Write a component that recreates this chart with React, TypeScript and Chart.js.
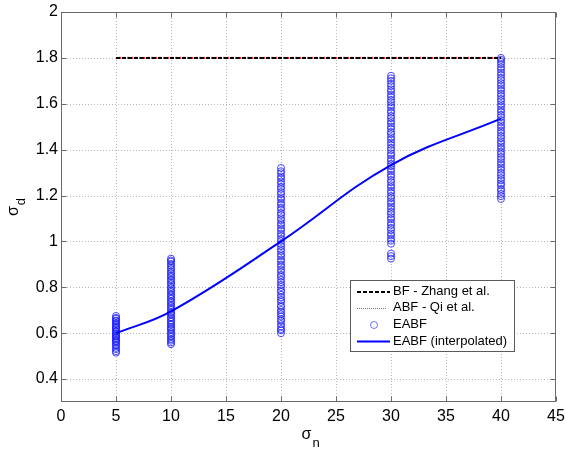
import React, { useEffect, useRef } from "react";
import { Chart, registerables } from "chart.js";

Chart.register(...registerables);

// ---- tick labels ----
const xTickValues = [0, 5, 10, 15, 20, 25, 30, 35, 40, 45];
const yTickValues = [0.4, 0.6, 0.8, 1.0, 1.2, 1.4, 1.6, 1.8, 2.0];

// ---- BF (Zhang et al.) and ABF (Qi et al.) ----
const bfX = [5, 40];
const bfY = [1.8, 1.8];
const abfX = [5, 40];
const abfY = [1.8, 1.8];

// ---- EABF samples (sigma_n levels and sigma_d estimates) ----
const eabfLevels = [5, 10, 20, 30, 40];
const eabfAt5 = [0.515, 0.521, 0.53, 0.536, 0.546, 0.55, 0.559, 0.564, 0.568, 0.575, 0.58, 0.586, 0.589, 0.595, 0.6, 0.607, 0.61, 0.618, 0.623, 0.627, 0.634, 0.64, 0.644, 0.652, 0.655, 0.663, 0.667, 0.675];
const eabfAt10 = [0.552, 0.559, 0.567, 0.573, 0.583, 0.589, 0.598, 0.604, 0.614, 0.62, 0.627, 0.636, 0.641, 0.65, 0.655, 0.665, 0.67, 0.68, 0.686, 0.692, 0.702, 0.708, 0.717, 0.723, 0.733, 0.739, 0.749, 0.754, 0.764, 0.77, 0.78, 0.786, 0.796, 0.802, 0.813, 0.819, 0.829, 0.835, 0.846, 0.852, 0.862, 0.868, 0.879, 0.885, 0.895, 0.902, 0.912, 0.917, 0.925];
const eabfAt20 = [0.6, 0.612, 0.618, 0.629, 0.64, 0.653, 0.66, 0.673, 0.682, 0.691, 0.701, 0.715, 0.721, 0.736, 0.745, 0.756, 0.767, 0.78, 0.787, 0.801, 0.811, 0.822, 0.833, 0.846, 0.854, 0.867, 0.877, 0.89, 0.899, 0.912, 0.921, 0.935, 0.944, 0.957, 0.966, 0.979, 0.989, 1.002, 1.011, 1.024, 1.034, 1.047, 1.057, 1.07, 1.079, 1.092, 1.101, 1.115, 1.124, 1.138, 1.147, 1.16, 1.169, 1.183, 1.192, 1.206, 1.215, 1.229, 1.238, 1.251, 1.261, 1.274, 1.283, 1.297, 1.306, 1.32];
const eabfAt30 = [0.925, 0.936, 0.947, 0.99, 1.003, 1.012, 1.026, 1.035, 1.049, 1.059, 1.072, 1.082, 1.096, 1.105, 1.119, 1.129, 1.142, 1.152, 1.165, 1.175, 1.189, 1.198, 1.212, 1.221, 1.235, 1.245, 1.258, 1.268, 1.282, 1.291, 1.305, 1.315, 1.328, 1.338, 1.351, 1.361, 1.375, 1.384, 1.398, 1.408, 1.421, 1.431, 1.444, 1.454, 1.468, 1.477, 1.491, 1.501, 1.514, 1.524, 1.537, 1.547, 1.561, 1.57, 1.584, 1.594, 1.607, 1.617, 1.63, 1.64, 1.654, 1.663, 1.677, 1.687, 1.7, 1.711, 1.722];
const eabfAt40 = [1.185, 1.197, 1.207, 1.22, 1.229, 1.244, 1.253, 1.266, 1.276, 1.289, 1.299, 1.312, 1.322, 1.335, 1.345, 1.358, 1.368, 1.381, 1.391, 1.404, 1.414, 1.427, 1.437, 1.45, 1.46, 1.473, 1.483, 1.496, 1.506, 1.519, 1.529, 1.542, 1.552, 1.565, 1.575, 1.588, 1.598, 1.611, 1.621, 1.634, 1.644, 1.657, 1.667, 1.68, 1.69, 1.703, 1.713, 1.726, 1.736, 1.749, 1.759, 1.772, 1.782, 1.792, 1.8];
const eabfColumns = [eabfAt5, eabfAt10, eabfAt20, eabfAt30, eabfAt40];

// ---- EABF interpolated curve ----
const interpX = [5, 10, 20, 30, 40];
const interpY = [0.6, 0.695, 1.0, 1.333, 1.535];

const FONT = "'Liberation Sans', Arial, Helvetica, sans-serif";
const AXIS_COLOR = "#6a6a6a";

const framePlugin = {
  id: "matlabFrame",
  beforeDatasetsDraw(chart: any) {
    const { ctx, chartArea: a, scales } = chart;
    const x = scales.x, y = scales.y;
    ctx.save();
    ctx.strokeStyle = "#b8b8b8";
    ctx.lineWidth = 1;
    ctx.setLineDash([1, 2]);
    xTickValues.forEach((v) => {
      if (v <= x.min || v >= x.max) return;
      const px = Math.round(x.getPixelForValue(v)) + 0.5;
      ctx.beginPath();
      ctx.moveTo(px, a.top);
      ctx.lineTo(px, a.bottom);
      ctx.stroke();
    });
    yTickValues.forEach((v) => {
      if (v <= y.min || v >= y.max) return;
      const py = Math.round(y.getPixelForValue(v)) + 0.5;
      ctx.beginPath();
      ctx.moveTo(a.left, py);
      ctx.lineTo(a.right, py);
      ctx.stroke();
    });
    ctx.restore();
  },
  afterDatasetsDraw(chart: any) {
    const { ctx, chartArea: a, scales } = chart;
    const x = scales.x, y = scales.y;
    const L = Math.round(a.left) + 0.5, R = Math.round(a.right) - 0.5;
    const T = Math.round(a.top) + 0.5, B = Math.round(a.bottom) - 0.5;
    ctx.save();
    ctx.strokeStyle = AXIS_COLOR;
    ctx.lineWidth = 1;
    ctx.setLineDash([]);
    ctx.strokeRect(L, T, R - L, B - T);
    const tl = 5;
    ctx.beginPath();
    xTickValues.forEach((v) => {
      const px = Math.round(x.getPixelForValue(v)) + 0.5;
      ctx.moveTo(px, B);
      ctx.lineTo(px, B - tl);
      ctx.moveTo(px, T);
      ctx.lineTo(px, T + tl);
    });
    yTickValues.forEach((v) => {
      const py = Math.round(y.getPixelForValue(v)) + 0.5;
      ctx.moveTo(L, py);
      ctx.lineTo(L + tl, py);
      ctx.moveTo(R, py);
      ctx.lineTo(R - tl, py);
    });
    ctx.stroke();
    ctx.restore();
  },
  afterDraw(chart: any) {
    const { ctx, chartArea: a } = chart;
    ctx.save();
    ctx.fillStyle = "#000";
    ctx.textBaseline = "alphabetic";
    ctx.textAlign = "left";
    // x title sigma_n
    ctx.font = `16px ${FONT}`;
    const sw = ctx.measureText("σ").width;
    const xcx = (a.left + a.right) / 2 - 1;
    ctx.fillText("σ", xcx - 6, 439);
    ctx.font = `13px ${FONT}`;
    ctx.fillText("n", xcx - 6 + sw + 1, 447);
    // y title sigma_d (rotated)
    ctx.save();
    ctx.translate(18, 216);
    ctx.rotate(-Math.PI / 2);
    ctx.font = `16px ${FONT}`;
    ctx.fillText("σ", 0, 0);
    ctx.font = `13px ${FONT}`;
    ctx.fillText("d", sw + 1, 7);
    ctx.restore();

    // legend
    const bx = 350.5, by = 280.5, bw = 164, bh = 71;
    ctx.fillStyle = "#fff";
    ctx.fillRect(bx, by, bw, bh);
    ctx.strokeStyle = "#5a5a5a";
    ctx.lineWidth = 1;
    ctx.strokeRect(bx, by, bw, bh);
    const x0 = 357, x1 = 390, tx = 393;
    const rows = [292, 308.5, 325, 341.5];
    // BF
    ctx.strokeStyle = "#000";
    ctx.lineWidth = 2;
    ctx.setLineDash([4, 2]);
    ctx.beginPath(); ctx.moveTo(x0, rows[0]); ctx.lineTo(x1, rows[0]); ctx.stroke();
    // ABF
    ctx.strokeStyle = "#ff3c3c";
    ctx.lineWidth = 1;
    ctx.setLineDash([1, 1]);
    ctx.beginPath(); ctx.moveTo(x0, rows[1]); ctx.lineTo(386, rows[1]); ctx.stroke();
    // EABF marker
    ctx.setLineDash([]);
    ctx.strokeStyle = "rgba(40,40,255,0.65)";
    ctx.lineWidth = 1;
    ctx.beginPath(); ctx.arc(374, rows[2], 3.5, 0, Math.PI * 2); ctx.stroke();
    // EABF interpolated
    ctx.strokeStyle = "#0000ff";
    ctx.lineWidth = 2;
    ctx.beginPath(); ctx.moveTo(x0, rows[3]); ctx.lineTo(x1, rows[3]); ctx.stroke();
    // texts
    ctx.fillStyle = "#000";
    ctx.font = `13px ${FONT}`;
    ctx.textBaseline = "middle";
    const labels = ["BF - Zhang et al.", "ABF - Qi et al.", "EABF", "EABF (interpolated)"];
    const textY = [291.5, 307.5, 324.5, 341];
    labels.forEach((t, i) => ctx.fillText(t, tx, textY[i]));
    ctx.restore();
  },
};

export default function App() {
  const canvasRef = useRef<HTMLCanvasElement | null>(null);

  useEffect(() => {
    const canvas = canvasRef.current;
    if (!canvas) return;
    const scatterPoints: { x: number; y: number }[] = [];
    eabfColumns.forEach((col, i) => col.forEach((v) => scatterPoints.push({ x: eabfLevels[i], y: v })));

    const chart = new Chart(canvas, {
      type: "scatter",
      data: {
        datasets: [
          {
            type: "line",
            label: "EABF (interpolated)",
            data: interpX.map((x, i) => ({ x, y: interpY[i] })),
            borderColor: "#0000ff",
            borderWidth: 2,
            pointRadius: 0,
            showLine: true,
            fill: false,
            tension: 0.4,
            order: 0,
          } as any,
          {
            type: "line",
            label: "BF - Zhang et al.",
            data: bfX.map((x, i) => ({ x, y: bfY[i] })),
            borderColor: "#000000",
            borderWidth: 2,
            borderDash: [4, 2],
            pointRadius: 0,
            showLine: true,
            fill: false,
            order: 1,
          } as any,
          {
            type: "line",
            label: "ABF - Qi et al.",
            data: abfX.map((x, i) => ({ x, y: abfY[i] })),
            borderColor: "#ff2020",
            borderWidth: 2,
            borderDash: [2, 2],
            borderDashOffset: 1,
            pointRadius: 0,
            showLine: true,
            fill: false,
            order: 2,
          } as any,
          {
            type: "scatter",
            label: "EABF",
            data: scatterPoints,
            borderColor: "rgba(20,20,255,0.75)",
            backgroundColor: "rgba(0,0,0,0)",
            borderWidth: 1,
            pointRadius: 3.5,
            pointStyle: "circle",
            order: 3,
          } as any,
        ],
      },
      options: {
        animation: false,
        responsive: false,
        devicePixelRatio: 1,
        layout: { padding: { left: 0, top: 12, right: 9, bottom: 0 } },
        plugins: { legend: { display: false }, tooltip: { enabled: false } },
        scales: {
          x: {
            type: "linear",
            min: 0,
            max: 45,
            grid: { display: false, drawTicks: false },
            border: { display: false },
            afterBuildTicks: (s: any) => {
              s.ticks = xTickValues.map((v) => ({ value: v }));
            },
            afterFit: (s: any) => {
              s.height = 51;
              s.paddingLeft = 0;
              s.paddingRight = 0;
            },
            ticks: {
              color: "#000",
              padding: 5,
              maxRotation: 0,
              autoSkip: false,
              font: { family: FONT, size: 16 },
              callback: (v: any) => String(v),
            },
          },
          y: {
            type: "linear",
            min: 0.3,
            max: 2,
            grid: { display: false, drawTicks: false },
            border: { display: false },
            afterBuildTicks: (s: any) => {
              s.ticks = yTickValues.map((v) => ({ value: v }));
            },
            afterFit: (s: any) => {
              s.width = 61;
              s.paddingTop = 0;
              s.paddingBottom = 0;
            },
            ticks: {
              color: "#000",
              padding: 3,
              autoSkip: false,
              font: { family: FONT, size: 16 },
              callback: (v: any) => String(Math.round(Number(v) * 10) / 10),
            },
          },
        },
      },
      plugins: [framePlugin],
    });
    return () => chart.destroy();
  }, []);

  return (
    <div style={{ position: "fixed", left: 0, top: 0, width: 565, height: 453, background: "#fff" }}>
      <canvas ref={canvasRef} width={565} height={453} style={{ display: "block", width: 565, height: 453 }} />
    </div>
  );
}
